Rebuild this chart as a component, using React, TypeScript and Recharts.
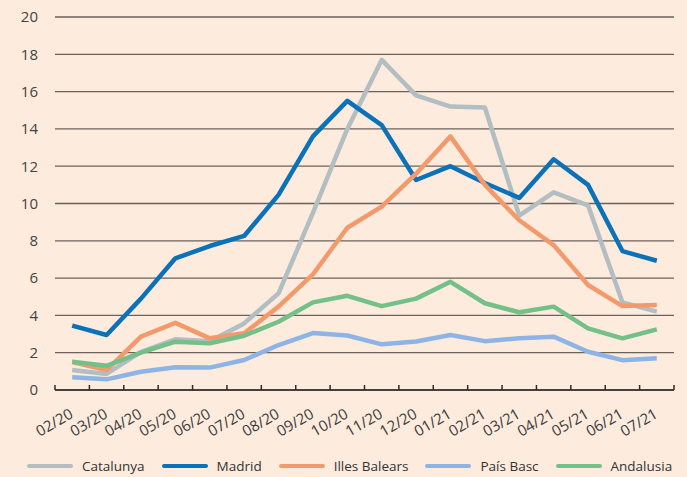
import React from 'react';
import { LineChart, Line, XAxis, YAxis, CartesianGrid, Legend } from 'recharts';

const categories = ['02/20','03/20','04/20','05/20','06/20','07/20','08/20','09/20','10/20','11/20','12/20','01/21','02/21','03/21','04/21','05/21','06/21','07/21'];
const catalunya = [1.07, 0.86, 2.05, 2.72, 2.62, 3.57, 5.18, 9.5, 14.0, 17.7, 15.8, 15.2, 15.15, 9.35, 10.6, 9.9, 4.7, 4.2];
const madrid = [3.45, 2.95, 4.9, 7.06, 7.72, 8.26, 10.46, 13.6, 15.5, 14.2, 11.26, 12.0, 11.1, 10.3, 12.37, 11.0, 7.45, 6.93];
const illesBalears = [1.5, 1.07, 2.86, 3.6, 2.77, 3.04, 4.47, 6.2, 8.7, 9.83, 11.6, 13.6, 11.0, 9.1, 7.77, 5.63, 4.5, 4.56];
const paisBasc = [0.68, 0.57, 0.98, 1.22, 1.2, 1.61, 2.41, 3.05, 2.92, 2.45, 2.6, 2.95, 2.62, 2.77, 2.86, 2.05, 1.6, 1.7];
const andalusia = [1.52, 1.3, 2.0, 2.59, 2.5, 2.91, 3.66, 4.7, 5.05, 4.5, 4.9, 5.8, 4.65, 4.17, 4.47, 3.3, 2.77, 3.25];
const yTicks = [0, 2, 4, 6, 8, 10, 12, 14, 16, 18, 20];

const seriesInfo = [
  { key: 'catalunya', name: 'Catalunya', color: '#b2bec1' },
  { key: 'madrid', name: 'Madrid', color: '#0b71b8' },
  { key: 'illesBalears', name: 'Illes Balears', color: '#f39a6c' },
  { key: 'paisBasc', name: 'País Basc', color: '#8db4e4' },
  { key: 'andalusia', name: 'Andalusia', color: '#73c089' },
];

const data = categories.map((label, i) => ({
  pos: i + 0.5,
  label,
  catalunya: catalunya[i],
  madrid: madrid[i],
  illesBalears: illesBalears[i],
  paisBasc: paisBasc[i],
  andalusia: andalusia[i],
}));

const xTicks: number[] = [];
for (let i = 0; i <= categories.length * 2; i++) xTicks.push(i / 2);

const FONT = '"Open Sans", sans-serif';

const XTick = (props: any) => {
  const { x, y, payload } = props;
  const v = payload.value as number;
  if (Number.isInteger(v)) {
    return <line x1={x} y1={y - 5} x2={x} y2={y} stroke="#2b2b2b" strokeWidth={1.5} />;
  }
  const label = categories[Math.floor(v)];
  return (
    <text
      x={x + 2}
      y={y + 27}
      transform={`rotate(-30 ${x + 2} ${y + 27})`}
      textAnchor="end"
      fontSize={15}
      fontFamily={FONT}
      fill="#3a3a3a"
    >
      {label}
    </text>
  );
};

const LegendContent = () => (
  <div style={{ display: 'flex', alignItems: 'center', paddingLeft: 27, fontFamily: FONT, fontSize: 13.5, lineHeight: '16px', color: '#333' }}>
    {seriesInfo.map((s) => (
      <div key={s.key} style={{ display: 'flex', alignItems: 'center', marginRight: 17 }}>
        <svg width={46} height={8}>
          <line x1={2} y1={4} x2={44} y2={4} stroke={s.color} strokeWidth={4} strokeLinecap="round" />
        </svg>
        <span style={{ marginLeft: 9, whiteSpace: 'nowrap' }}>{s.name}</span>
      </div>
    ))}
  </div>
);

export default function App() {
  return (
    <div style={{ position: 'absolute', left: 0, top: 0, width: 687, height: 477, background: '#fdebdd' }}>
      <LineChart width={687} height={477} data={data} margin={{ top: 17, right: 13, left: 0, bottom: 0 }}>
        <CartesianGrid vertical={false} stroke="#6b625d" strokeWidth={1.3} />
        <XAxis
          dataKey="pos"
          type="number"
          domain={[0, categories.length]}
          ticks={xTicks}
          interval={0}
          tickLine={false}
          tickSize={0}
          tickMargin={0}
          height={87}
          axisLine={{ stroke: '#2b2b2b', strokeWidth: 1.5 }}
          tick={<XTick />}
        />
        <YAxis
          domain={[0, 20]}
          ticks={yTicks}
          interval={0}
          width={55}
          axisLine={false}
          tickLine={false}
          tickSize={0}
          tickMargin={17}
          tick={{ fontSize: 15, fontFamily: FONT, fill: '#444' }}
        />
        <Legend
          layout="horizontal"
          verticalAlign="middle"
          align="center"
          wrapperStyle={{ top: 458, left: 0, width: 687, height: 18 }}
          content={<LegendContent />}
        />
        {seriesInfo.map((s) => (
          <Line
            key={s.key}
            dataKey={s.key}
            name={s.name}
            stroke={s.color}
            strokeWidth={4.5}
            dot={false}
            activeDot={false}
            isAnimationActive={false}
            strokeLinejoin="round"
          />
        ))}
      </LineChart>
    </div>
  );
}
